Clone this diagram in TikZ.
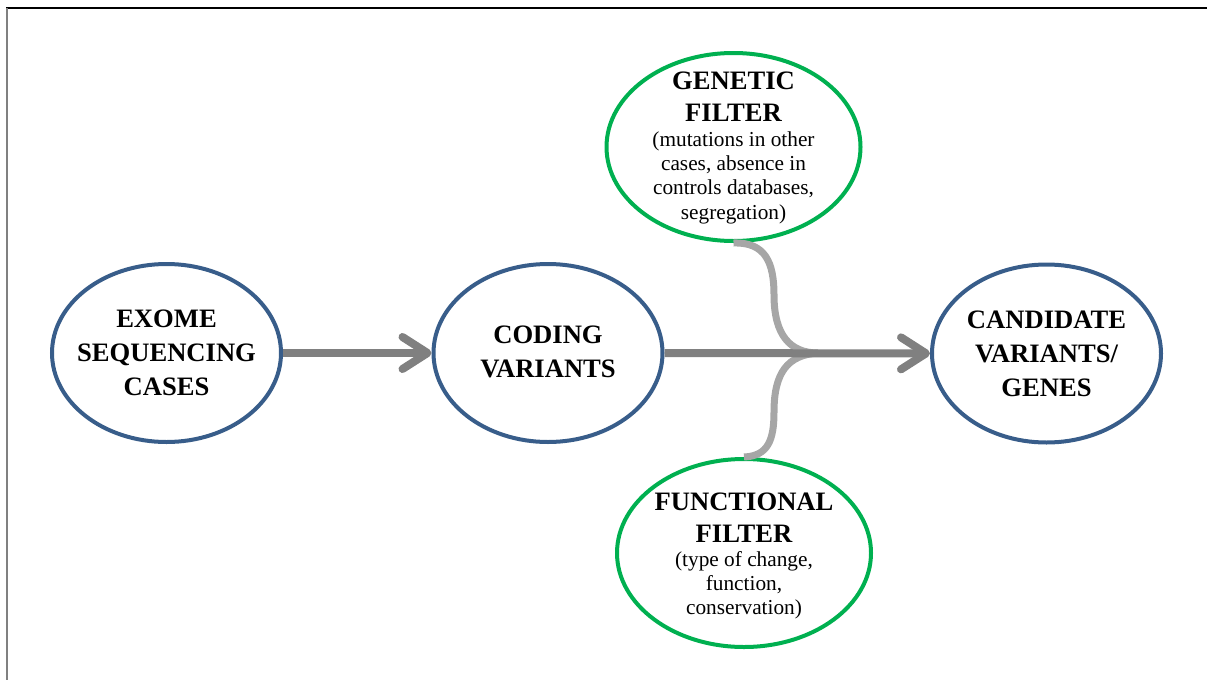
\documentclass[tikz,border=0pt]{standalone}
\usepackage{fontspec}
\setmainfont{Liberation Serif}
\usetikzlibrary{arrows.meta,shapes.geometric}
\definecolor{ovalblue}{RGB}{56,93,138}
\definecolor{ovalgreen}{RGB}{0,176,80}
\definecolor{flowgray}{RGB}{128,128,128}
\definecolor{mergegray}{RGB}{166,166,166}
\definecolor{framegray}{RGB}{128,128,128}
\newcommand\ovaltitle{\fontsize{26.6}{34}\selectfont\bfseries}
\newcommand\ovalnote{\fontsize{21.3}{24.3}\selectfont}

\begin{document}
\begin{tikzpicture}[x=1pt,y=-1pt,
  oval/.style={ellipse, draw, line width=4pt, inner sep=0pt},
  stage/.style={oval, draw=ovalblue, minimum width=229pt, minimum height=178pt},
  filterbox/.style={oval, draw=ovalgreen, minimum width=254pt, minimum height=188pt},
  stagetext/.style={align=center, font=\ovaltitle, inner sep=0pt},
  filtertext/.style={align=center, font=\ovalnote, inner sep=0pt},
  flow/.style={draw=flowgray, line width=8pt, -{Straight Barb[length=25pt, width=32pt, round]}},
  merge/.style={draw=mergegray, line width=7pt}]

% canvas and frame
\useasboundingbox (0,0) rectangle (1207,680);
\draw[black, line width=1.5pt] (6,8) -- (1207,8);
\draw[framegray, line width=2pt] (6.5,8) -- (6.5,680);

% ovals
\node[stage] (exome) at (166.5,353) {};
\node[stage] (coding) at (548,353) {};
\node[stage] (candidate) at (1046.5,353.5) {};
\node[filterbox] (genetic) at (733.5,147) {};
\node[filterbox] (functional) at (744,553) {};

% oval texts
\node[stagetext] (exome-text) at (166.5,353) {EXOME\\SEQUENCING\\CASES};
\node[stagetext] (coding-text) at (548,352) {CODING\\VARIANTS};
\node[stagetext] (candidate-text) at (1046.5,354) {CANDIDATE\\VARIANTS/\\GENES};
\node[filtertext] (genetic-text) at (733.5,148) {{\ovaltitle GENETIC}\\[7.7pt]{\ovaltitle FILTER}\\(mutations in other\\cases, absence in\\controls databases,\\segregation)};
\node[filtertext] (functional-text) at (744,556) {{\ovaltitle FUNCTIONAL}\\[7.7pt]{\ovaltitle FILTER}\\(type of change,\\function,\\conservation)};

% filters joining the main flow
\coordinate (merge) at (818,353);
\draw[merge] (genetic.south) .. controls (765,242) and (774,262) .. (774,295)
  .. controls (774,335) and (790,353) .. (merge);
\draw[merge] (functional.north) .. controls (768,456) and (774,440) .. (774,412)
  .. controls (774,372) and (788,355) .. (merge);

% main flow
\draw[flow] (exome) -- (coding);
\draw[flow] (coding) -- (candidate);
\end{tikzpicture}
\end{document}
